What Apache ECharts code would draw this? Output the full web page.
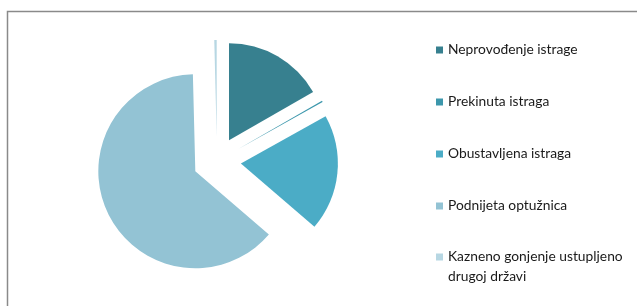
<!DOCTYPE html>
<html>
<head>
<meta charset="utf-8">
<script src="https://cdn.jsdelivr.net/npm/echarts@6/dist/echarts.min.js"></script>
<style>
  html, body { margin: 0; padding: 0; background: #fff; }
  #chart { width: 637px; height: 306px; }
</style>
</head>
<body>
<div id="chart"></div>
<script>
// kategorije i udjeli (%), očitano s grafikona
const categories = [
  'Neprovođenje istrage',
  'Prekinuta istraga',
  'Obustavljena istraga',
  'Podnijeta optužnica',
  'Kazneno gonjenje ustupljeno drugoj državi'
]
const values = [16.7, 0.2, 19.4, 63.3, 0.4]
const colors = ['#37808F', '#3C97AC', '#4BACC6', '#93C3D4', '#B7D7E3']

const myChart = echarts.init(document.getElementById('chart'))

const legendBase = {
  orient: 'vertical',
  left: 436,
  padding: 0,
  itemWidth: 7,
  itemHeight: 7,
  icon: 'rect',
  selectedMode: false
}
const legendFont = { fontFamily: 'Lato', fontSize: 13.8, color: '#1a1a1a' }

myChart.setOption({
  animation: false,
  color: colors,
  graphic: [{
    type: 'rect',
    shape: { x: 7.5, y: 11.5, width: 700, height: 400 },
    style: { fill: 'none', stroke: '#8a8a8a', lineWidth: 1.5 },
    silent: true
  }],
  legend: [
    {
      ...legendBase,
      top: 41,
      itemGap: 34,
      textStyle: { ...legendFont, lineHeight: 18 },
      data: categories.slice(0, 4)
    },
    {
      // zadnja stavka u dva reda; prazan prvi red drži ikonu uz "Kazneno..."
      ...legendBase,
      top: 227,
      textStyle: { ...legendFont, lineHeight: 20 },
      data: categories.slice(4),
      formatter: () => '\nKazneno gonjenje ustupljeno\ndrugoj državi'
    }
  ],
  series: [{
    type: 'pie',
    center: [217, 161],
    radius: 97,
    startAngle: 90,
    clockwise: true,
    selectedMode: 'multiple',
    selectedOffset: 24,
    label: { show: false },
    labelLine: { show: false },
    emphasis: { disabled: true },
    itemStyle: { borderWidth: 0 },
    data: categories.map((name, i) => ({ name, value: values[i], selected: true }))
  }]
})
</script>
</body>
</html>
